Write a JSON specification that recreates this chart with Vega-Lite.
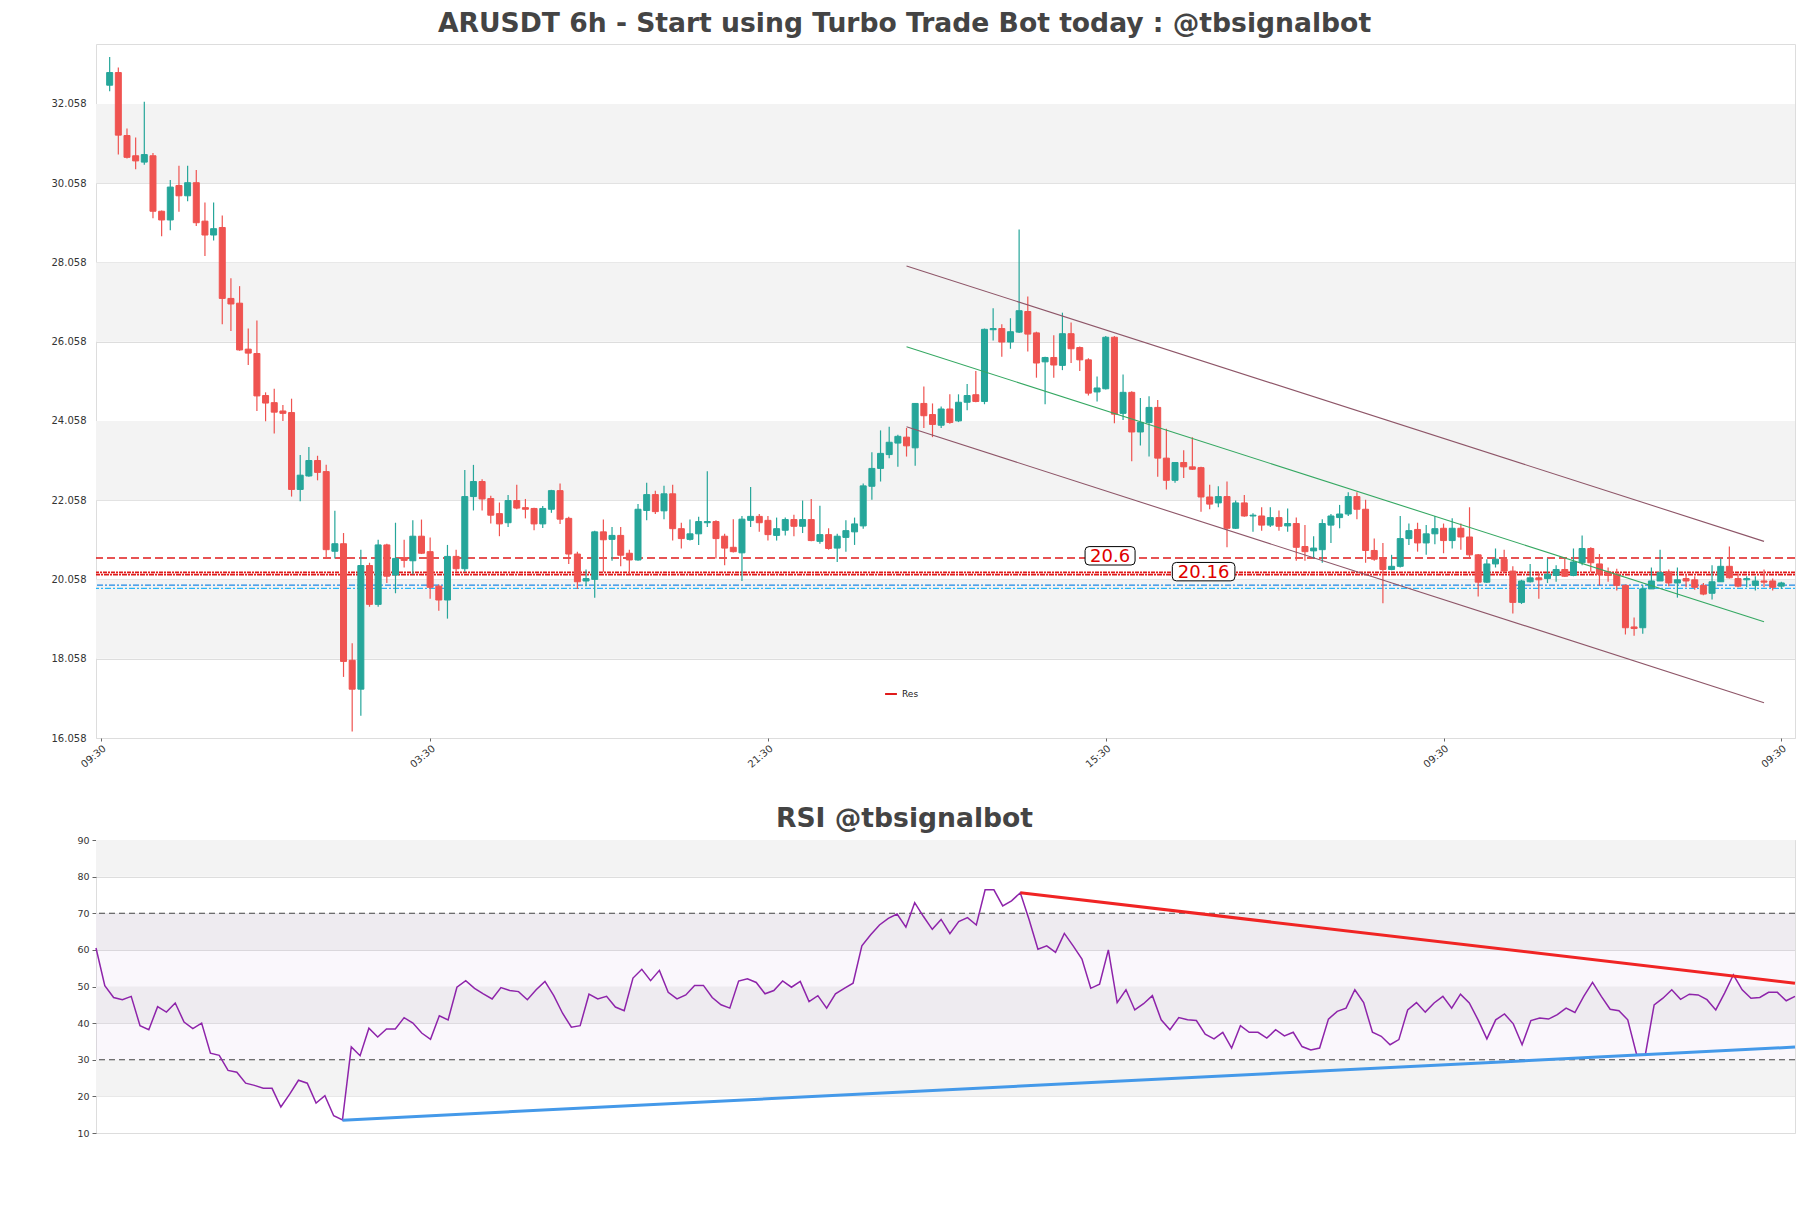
{
  "$schema": "https://vega.github.io/schema/vega-lite/v6.json",
  "padding": {"left": 50, "top": 10, "right": 10, "bottom": 0},
  "background": "white",
  "config": {
    "font": "DejaVu Sans",
    "view": {"stroke": "#dddddd"},
    "axis": {"labelFont": "DejaVu Sans", "labelColor": "#333333", "domain": false, "tickColor": "#666666", "gridColor": "#dddddd", "title": null},
    "axisY": {"labelOverlap": false},
    "title": {"font": "DejaVu Sans", "fontSize": 26.6, "fontWeight": "bold", "color": "#444444"},
    "legend": {"labelFont": "DejaVu Sans"}
  },
  "datasets": {
    "candles": [
      {"i":0,"open":32.53,"high":33.24,"low":32.38,"close":32.85},
      {"i":1,"open":32.85,"high":32.98,"low":30.78,"close":31.27},
      {"i":2,"open":31.26,"high":31.44,"low":30.68,"close":30.71},
      {"i":3,"open":30.75,"high":31.21,"low":30.41,"close":30.62},
      {"i":4,"open":30.59,"high":32.11,"low":30.52,"close":30.78},
      {"i":5,"open":30.75,"high":30.82,"low":29.17,"close":29.35},
      {"i":6,"open":29.35,"high":29.37,"low":28.72,"close":29.13},
      {"i":7,"open":29.13,"high":30.14,"low":28.87,"close":29.96},
      {"i":8,"open":30.00,"high":30.50,"low":29.34,"close":29.74},
      {"i":9,"open":29.74,"high":30.50,"low":29.60,"close":30.07},
      {"i":10,"open":30.07,"high":30.39,"low":28.98,"close":29.06},
      {"i":11,"open":29.10,"high":29.57,"low":28.22,"close":28.75},
      {"i":12,"open":28.75,"high":29.57,"low":28.61,"close":28.91},
      {"i":13,"open":28.94,"high":29.24,"low":26.50,"close":27.15},
      {"i":14,"open":27.15,"high":27.66,"low":26.33,"close":27.01},
      {"i":15,"open":27.03,"high":27.46,"low":25.83,"close":25.85},
      {"i":16,"open":25.87,"high":26.39,"low":25.47,"close":25.77},
      {"i":17,"open":25.76,"high":26.59,"low":24.31,"close":24.69},
      {"i":18,"open":24.70,"high":24.78,"low":24.05,"close":24.51},
      {"i":19,"open":24.52,"high":24.87,"low":23.74,"close":24.28},
      {"i":20,"open":24.31,"high":24.46,"low":24.06,"close":24.25},
      {"i":21,"open":24.27,"high":24.62,"low":22.15,"close":22.33},
      {"i":22,"open":22.33,"high":23.20,"low":22.03,"close":22.69},
      {"i":23,"open":22.67,"high":23.40,"low":22.65,"close":23.06},
      {"i":24,"open":23.06,"high":23.18,"low":22.56,"close":22.76},
      {"i":25,"open":22.78,"high":22.95,"low":20.59,"close":20.81},
      {"i":26,"open":20.77,"high":21.79,"low":20.59,"close":20.96},
      {"i":27,"open":20.96,"high":21.23,"low":17.60,"close":17.99},
      {"i":28,"open":18.02,"high":18.45,"low":16.22,"close":17.29},
      {"i":29,"open":17.29,"high":20.81,"low":16.62,"close":20.41},
      {"i":30,"open":20.41,"high":20.48,"low":19.37,"close":19.43},
      {"i":31,"open":19.43,"high":21.06,"low":19.37,"close":20.93},
      {"i":32,"open":20.93,"high":20.96,"low":19.97,"close":20.14},
      {"i":33,"open":20.17,"high":21.49,"low":19.71,"close":20.59},
      {"i":34,"open":20.61,"high":21.06,"low":20.36,"close":20.54},
      {"i":35,"open":20.53,"high":21.55,"low":20.19,"close":21.15},
      {"i":36,"open":21.15,"high":21.57,"low":20.70,"close":20.72},
      {"i":37,"open":20.76,"high":21.12,"low":19.57,"close":19.86},
      {"i":38,"open":19.89,"high":19.93,"low":19.27,"close":19.54},
      {"i":39,"open":19.54,"high":20.93,"low":19.07,"close":20.64},
      {"i":40,"open":20.64,"high":20.81,"low":20.25,"close":20.33},
      {"i":41,"open":20.33,"high":22.82,"low":20.25,"close":22.15},
      {"i":42,"open":22.15,"high":22.95,"low":21.80,"close":22.53},
      {"i":43,"open":22.53,"high":22.59,"low":21.80,"close":22.09},
      {"i":44,"open":22.10,"high":22.17,"low":21.47,"close":21.68},
      {"i":45,"open":21.72,"high":22.00,"low":21.15,"close":21.46},
      {"i":46,"open":21.49,"high":22.19,"low":21.38,"close":22.05},
      {"i":47,"open":22.05,"high":22.45,"low":21.83,"close":21.86},
      {"i":48,"open":21.87,"high":22.09,"low":21.60,"close":21.83},
      {"i":49,"open":21.85,"high":21.87,"low":21.30,"close":21.46},
      {"i":50,"open":21.46,"high":21.91,"low":21.36,"close":21.85},
      {"i":51,"open":21.83,"high":22.32,"low":21.74,"close":22.30},
      {"i":52,"open":22.30,"high":22.48,"low":21.46,"close":21.58},
      {"i":53,"open":21.60,"high":21.64,"low":20.45,"close":20.70},
      {"i":54,"open":20.70,"high":20.76,"low":19.82,"close":20.00},
      {"i":55,"open":20.02,"high":20.31,"low":19.89,"close":20.08},
      {"i":56,"open":20.06,"high":21.29,"low":19.60,"close":21.26},
      {"i":57,"open":21.26,"high":21.57,"low":20.25,"close":21.06},
      {"i":58,"open":21.07,"high":21.38,"low":20.53,"close":21.17},
      {"i":59,"open":21.17,"high":21.38,"low":20.39,"close":20.67},
      {"i":60,"open":20.72,"high":20.81,"low":20.19,"close":20.55},
      {"i":61,"open":20.55,"high":21.96,"low":20.53,"close":21.83},
      {"i":62,"open":21.80,"high":22.50,"low":21.55,"close":22.20},
      {"i":63,"open":22.20,"high":22.30,"low":21.71,"close":21.77},
      {"i":64,"open":21.79,"high":22.42,"low":21.58,"close":22.22},
      {"i":65,"open":22.22,"high":22.45,"low":21.04,"close":21.34},
      {"i":66,"open":21.34,"high":21.49,"low":20.84,"close":21.09},
      {"i":67,"open":21.07,"high":21.57,"low":21.04,"close":21.21},
      {"i":68,"open":21.21,"high":21.64,"low":20.93,"close":21.52},
      {"i":69,"open":21.49,"high":22.79,"low":21.38,"close":21.52},
      {"i":70,"open":21.52,"high":21.55,"low":20.59,"close":21.09},
      {"i":71,"open":21.15,"high":21.21,"low":20.42,"close":20.85},
      {"i":72,"open":20.87,"high":21.58,"low":20.74,"close":20.76},
      {"i":73,"open":20.73,"high":21.66,"low":20.02,"close":21.58},
      {"i":74,"open":21.55,"high":22.39,"low":21.38,"close":21.65},
      {"i":75,"open":21.65,"high":21.71,"low":21.26,"close":21.49},
      {"i":76,"open":21.55,"high":21.66,"low":21.04,"close":21.19},
      {"i":77,"open":21.17,"high":21.62,"low":21.04,"close":21.34},
      {"i":78,"open":21.30,"high":21.62,"low":21.17,"close":21.57},
      {"i":79,"open":21.57,"high":21.69,"low":21.15,"close":21.40},
      {"i":80,"open":21.40,"high":22.05,"low":21.23,"close":21.57},
      {"i":81,"open":21.57,"high":22.09,"low":21.02,"close":21.04},
      {"i":82,"open":21.02,"high":21.92,"low":20.96,"close":21.19},
      {"i":83,"open":21.19,"high":21.35,"low":20.81,"close":20.84},
      {"i":84,"open":20.85,"high":21.21,"low":20.50,"close":21.15},
      {"i":85,"open":21.12,"high":21.55,"low":20.76,"close":21.29},
      {"i":86,"open":21.26,"high":21.62,"low":20.93,"close":21.46},
      {"i":87,"open":21.41,"high":22.48,"low":21.34,"close":22.42},
      {"i":88,"open":22.41,"high":23.27,"low":22.07,"close":22.86},
      {"i":89,"open":22.86,"high":23.82,"low":22.53,"close":23.24},
      {"i":90,"open":23.21,"high":23.91,"low":23.12,"close":23.52},
      {"i":91,"open":23.50,"high":23.71,"low":22.90,"close":23.67},
      {"i":92,"open":23.65,"high":23.88,"low":23.16,"close":23.43},
      {"i":93,"open":23.38,"high":24.51,"low":22.93,"close":24.50},
      {"i":94,"open":24.50,"high":24.93,"low":23.88,"close":24.19},
      {"i":95,"open":24.22,"high":24.50,"low":23.65,"close":23.97},
      {"i":96,"open":23.95,"high":24.42,"low":23.88,"close":24.36},
      {"i":97,"open":24.36,"high":24.73,"low":23.99,"close":24.02},
      {"i":98,"open":24.06,"high":24.73,"low":24.03,"close":24.53},
      {"i":99,"open":24.53,"high":24.99,"low":24.33,"close":24.70},
      {"i":100,"open":24.72,"high":25.32,"low":24.53,"close":24.55},
      {"i":101,"open":24.55,"high":26.39,"low":24.48,"close":26.37},
      {"i":102,"open":26.36,"high":26.90,"low":26.09,"close":26.39},
      {"i":103,"open":26.39,"high":26.50,"low":25.68,"close":26.05},
      {"i":104,"open":26.05,"high":26.65,"low":25.88,"close":26.31},
      {"i":105,"open":26.30,"high":28.89,"low":26.28,"close":26.84},
      {"i":106,"open":26.82,"high":27.20,"low":25.81,"close":26.25},
      {"i":107,"open":26.28,"high":26.31,"low":25.15,"close":25.52},
      {"i":108,"open":25.55,"high":25.68,"low":24.48,"close":25.66},
      {"i":109,"open":25.66,"high":26.22,"low":25.15,"close":25.47},
      {"i":110,"open":25.46,"high":26.79,"low":25.34,"close":26.26},
      {"i":111,"open":26.26,"high":26.54,"low":25.52,"close":25.88},
      {"i":112,"open":25.91,"high":25.94,"low":25.32,"close":25.60},
      {"i":113,"open":25.60,"high":25.64,"low":24.70,"close":24.76},
      {"i":114,"open":24.79,"high":25.18,"low":24.55,"close":24.89},
      {"i":115,"open":24.87,"high":26.20,"low":24.85,"close":26.17},
      {"i":116,"open":26.17,"high":26.20,"low":24.00,"close":24.23},
      {"i":117,"open":24.25,"high":25.23,"low":24.08,"close":24.78},
      {"i":118,"open":24.78,"high":24.81,"low":23.04,"close":23.78},
      {"i":119,"open":23.78,"high":24.64,"low":23.44,"close":24.02},
      {"i":120,"open":24.02,"high":24.68,"low":23.16,"close":24.40},
      {"i":121,"open":24.40,"high":24.59,"low":22.65,"close":23.12},
      {"i":122,"open":23.12,"high":23.86,"low":22.33,"close":22.56},
      {"i":123,"open":22.56,"high":23.01,"low":22.50,"close":23.01},
      {"i":124,"open":23.01,"high":23.32,"low":22.62,"close":22.90},
      {"i":125,"open":22.90,"high":23.65,"low":22.82,"close":22.84},
      {"i":126,"open":22.88,"high":22.90,"low":21.77,"close":22.14},
      {"i":127,"open":22.14,"high":22.45,"low":21.83,"close":21.96},
      {"i":128,"open":21.99,"high":22.41,"low":21.88,"close":22.15},
      {"i":129,"open":22.15,"high":22.53,"low":20.87,"close":21.35},
      {"i":130,"open":21.35,"high":22.05,"low":21.33,"close":21.99},
      {"i":131,"open":21.99,"high":22.19,"low":21.64,"close":21.66},
      {"i":132,"open":21.66,"high":21.73,"low":21.26,"close":21.68},
      {"i":133,"open":21.66,"high":21.88,"low":21.29,"close":21.43},
      {"i":134,"open":21.43,"high":21.88,"low":21.38,"close":21.62},
      {"i":135,"open":21.62,"high":21.80,"low":21.29,"close":21.40},
      {"i":136,"open":21.41,"high":21.85,"low":21.26,"close":21.47},
      {"i":137,"open":21.47,"high":21.62,"low":20.53,"close":20.87},
      {"i":138,"open":20.89,"high":21.43,"low":20.53,"close":20.76},
      {"i":139,"open":20.78,"high":21.15,"low":20.59,"close":20.85},
      {"i":140,"open":20.81,"high":21.58,"low":20.48,"close":21.47},
      {"i":141,"open":21.43,"high":21.71,"low":20.98,"close":21.66},
      {"i":142,"open":21.62,"high":21.94,"low":21.35,"close":21.71},
      {"i":143,"open":21.71,"high":22.26,"low":21.66,"close":22.15},
      {"i":144,"open":22.15,"high":22.26,"low":21.58,"close":21.83},
      {"i":145,"open":21.83,"high":22.07,"low":20.48,"close":20.79},
      {"i":146,"open":20.79,"high":21.09,"low":20.53,"close":20.57},
      {"i":147,"open":20.59,"high":20.98,"low":19.46,"close":20.31},
      {"i":148,"open":20.31,"high":20.68,"low":20.29,"close":20.39},
      {"i":149,"open":20.39,"high":21.66,"low":20.36,"close":21.09},
      {"i":150,"open":21.09,"high":21.47,"low":20.93,"close":21.29},
      {"i":151,"open":21.32,"high":21.49,"low":20.76,"close":20.98},
      {"i":152,"open":20.98,"high":21.43,"low":20.68,"close":21.21},
      {"i":153,"open":21.21,"high":21.66,"low":20.95,"close":21.34},
      {"i":154,"open":21.35,"high":21.47,"low":20.72,"close":21.04},
      {"i":155,"open":21.04,"high":21.60,"low":20.84,"close":21.35},
      {"i":156,"open":21.35,"high":21.47,"low":20.81,"close":21.13},
      {"i":157,"open":21.13,"high":21.88,"low":20.59,"close":20.68},
      {"i":158,"open":20.68,"high":20.70,"low":19.63,"close":19.99},
      {"i":159,"open":19.99,"high":20.57,"low":19.97,"close":20.45},
      {"i":160,"open":20.45,"high":20.84,"low":20.36,"close":20.57},
      {"i":161,"open":20.57,"high":20.81,"low":20.23,"close":20.27},
      {"i":162,"open":20.27,"high":20.39,"low":19.20,"close":19.48},
      {"i":163,"open":19.48,"high":20.05,"low":19.44,"close":20.02},
      {"i":164,"open":20.00,"high":20.45,"low":19.98,"close":20.10},
      {"i":165,"open":20.10,"high":20.23,"low":19.57,"close":20.05},
      {"i":166,"open":20.08,"high":20.59,"low":19.97,"close":20.19},
      {"i":167,"open":20.16,"high":20.42,"low":20.00,"close":20.31},
      {"i":168,"open":20.31,"high":20.61,"low":20.13,"close":20.14},
      {"i":169,"open":20.16,"high":20.84,"low":20.14,"close":20.50},
      {"i":170,"open":20.48,"high":21.17,"low":20.42,"close":20.84},
      {"i":171,"open":20.84,"high":20.87,"low":20.25,"close":20.48},
      {"i":172,"open":20.45,"high":20.70,"low":19.91,"close":20.19},
      {"i":173,"open":20.25,"high":20.36,"low":20.00,"close":20.16},
      {"i":174,"open":20.19,"high":20.33,"low":19.78,"close":19.91},
      {"i":175,"open":19.91,"high":19.93,"low":18.67,"close":18.84},
      {"i":176,"open":18.86,"high":19.10,"low":18.64,"close":18.82},
      {"i":177,"open":18.84,"high":19.91,"low":18.69,"close":19.82},
      {"i":178,"open":19.82,"high":20.36,"low":19.82,"close":20.02},
      {"i":179,"open":20.02,"high":20.81,"low":20.02,"close":20.23},
      {"i":180,"open":20.25,"high":20.31,"low":19.89,"close":19.97},
      {"i":181,"open":19.97,"high":20.36,"low":19.60,"close":20.05},
      {"i":182,"open":20.08,"high":20.19,"low":19.86,"close":20.02},
      {"i":183,"open":20.05,"high":20.14,"low":19.80,"close":19.86},
      {"i":184,"open":19.91,"high":19.97,"low":19.66,"close":19.69},
      {"i":185,"open":19.71,"high":20.42,"low":19.55,"close":20.00},
      {"i":186,"open":20.00,"high":20.59,"low":20.00,"close":20.39},
      {"i":187,"open":20.39,"high":20.89,"low":20.08,"close":20.10},
      {"i":188,"open":20.08,"high":20.21,"low":19.86,"close":19.89},
      {"i":189,"open":20.05,"high":20.14,"low":19.86,"close":20.08},
      {"i":190,"open":19.91,"high":20.14,"low":19.78,"close":20.02},
      {"i":191,"open":20.02,"high":20.31,"low":19.86,"close":19.99},
      {"i":192,"open":20.02,"high":20.08,"low":19.78,"close":19.86},
      {"i":193,"open":19.89,"high":20.00,"low":19.82,"close":19.97}
    ],
    "priceBands": [
      {"lo":18.058,"hi":20.058},{"lo":22.058,"hi":24.058},{"lo":26.058,"hi":28.058},{"lo":30.058,"hi":32.058}
    ],
    "resMain": [{"price":20.6,"name":"Res"}],
    "resZoneA": [{"price":20.235,"name":"Res"}],
    "resZoneB": [{"price":20.18,"name":"Res"}],
    "supZoneA": [{"price":19.915}],
    "supZoneB": [{"price":19.835}],
    "channel": [
      {"i":92,"price":27.97,"line":"upper"},{"i":191,"price":21.02,"line":"upper"},
      {"i":92,"price":23.91,"line":"lower"},{"i":191,"price":16.95,"line":"lower"}
    ],
    "channelMid": [{"i":92,"price":25.93},{"i":191,"price":18.99}],
    "levelLabels": [
      {"i":115.5,"price":20.6,"label":"20.6"},
      {"i":126.3,"price":20.2,"label":"20.16"}
    ],
    "rsi": [
      {"i":0,"rsi":60.5},{"i":1,"rsi":50.2},{"i":2,"rsi":47.0},{"i":3,"rsi":46.4},{"i":4,"rsi":47.3},
      {"i":5,"rsi":39.3},{"i":6,"rsi":38.2},{"i":7,"rsi":44.5},{"i":8,"rsi":43.0},{"i":9,"rsi":45.5},
      {"i":10,"rsi":40.3},{"i":11,"rsi":38.5},{"i":12,"rsi":40.0},{"i":13,"rsi":31.8},{"i":14,"rsi":31.2},
      {"i":15,"rsi":27.1},{"i":16,"rsi":26.6},{"i":17,"rsi":23.6},{"i":18,"rsi":23.0},{"i":19,"rsi":22.2},
      {"i":20,"rsi":22.2},{"i":21,"rsi":17.1},{"i":22,"rsi":20.6},{"i":23,"rsi":24.4},{"i":24,"rsi":23.6},
      {"i":25,"rsi":18.2},{"i":26,"rsi":20.2},{"i":27,"rsi":14.7},{"i":28,"rsi":13.6},{"i":29,"rsi":33.5},
      {"i":30,"rsi":31.1},{"i":31,"rsi":38.6},{"i":32,"rsi":36.2},{"i":33,"rsi":38.4},{"i":34,"rsi":38.4},
      {"i":35,"rsi":41.5},{"i":36,"rsi":40.0},{"i":37,"rsi":37.3},{"i":38,"rsi":35.6},{"i":39,"rsi":42.0},
      {"i":40,"rsi":40.9},{"i":41,"rsi":49.8},{"i":42,"rsi":51.6},{"i":43,"rsi":49.5},{"i":44,"rsi":48.0},
      {"i":45,"rsi":46.6},{"i":46,"rsi":49.7},{"i":47,"rsi":48.9},{"i":48,"rsi":48.6},{"i":49,"rsi":46.4},
      {"i":50,"rsi":49.1},{"i":51,"rsi":51.4},{"i":52,"rsi":47.5},{"i":53,"rsi":42.7},{"i":54,"rsi":38.9},
      {"i":55,"rsi":39.3},{"i":56,"rsi":47.9},{"i":57,"rsi":46.6},{"i":58,"rsi":47.3},{"i":59,"rsi":44.4},
      {"i":60,"rsi":43.4},{"i":61,"rsi":52.3},{"i":62,"rsi":54.7},{"i":63,"rsi":51.6},{"i":64,"rsi":54.4},
      {"i":65,"rsi":48.4},{"i":66,"rsi":46.6},{"i":67,"rsi":47.7},{"i":68,"rsi":50.3},{"i":69,"rsi":50.3},
      {"i":70,"rsi":47.0},{"i":71,"rsi":45.0},{"i":72,"rsi":44.1},{"i":73,"rsi":51.5},{"i":74,"rsi":52.1},
      {"i":75,"rsi":51.1},{"i":76,"rsi":48.0},{"i":77,"rsi":48.9},{"i":78,"rsi":51.5},{"i":79,"rsi":49.8},
      {"i":80,"rsi":51.4},{"i":81,"rsi":45.9},{"i":82,"rsi":47.5},{"i":83,"rsi":44.1},{"i":84,"rsi":48.0},
      {"i":85,"rsi":49.5},{"i":86,"rsi":50.9},{"i":87,"rsi":61.1},{"i":88,"rsi":64.1},{"i":89,"rsi":66.8},
      {"i":90,"rsi":68.6},{"i":91,"rsi":69.8},{"i":92,"rsi":66.2},{"i":93,"rsi":72.9},{"i":94,"rsi":69.1},
      {"i":95,"rsi":65.6},{"i":96,"rsi":68.3},{"i":97,"rsi":64.4},{"i":98,"rsi":67.7},{"i":99,"rsi":68.8},
      {"i":100,"rsi":66.8},{"i":101,"rsi":76.4},{"i":102,"rsi":76.4},{"i":103,"rsi":72.0},{"i":104,"rsi":73.4},
      {"i":105,"rsi":75.6},{"i":106,"rsi":68.2},{"i":107,"rsi":60.2},{"i":108,"rsi":61.1},{"i":109,"rsi":59.3},
      {"i":110,"rsi":64.5},{"i":111,"rsi":61.1},{"i":112,"rsi":57.5},{"i":113,"rsi":49.5},{"i":114,"rsi":50.6},
      {"i":115,"rsi":60.0},{"i":116,"rsi":45.6},{"i":117,"rsi":49.1},{"i":118,"rsi":43.6},{"i":119,"rsi":45.3},
      {"i":120,"rsi":47.5},{"i":121,"rsi":40.9},{"i":122,"rsi":38.2},{"i":123,"rsi":41.5},{"i":124,"rsi":40.9},
      {"i":125,"rsi":40.7},{"i":126,"rsi":37.0},{"i":127,"rsi":35.7},{"i":128,"rsi":37.5},{"i":129,"rsi":33.2},
      {"i":130,"rsi":39.3},{"i":131,"rsi":37.5},{"i":132,"rsi":37.5},{"i":133,"rsi":35.9},{"i":134,"rsi":38.2},
      {"i":135,"rsi":36.5},{"i":136,"rsi":37.5},{"i":137,"rsi":33.6},{"i":138,"rsi":32.7},{"i":139,"rsi":33.2},
      {"i":140,"rsi":41.1},{"i":141,"rsi":43.2},{"i":142,"rsi":44.1},{"i":143,"rsi":49.1},{"i":144,"rsi":45.6},
      {"i":145,"rsi":37.5},{"i":146,"rsi":36.4},{"i":147,"rsi":34.1},{"i":148,"rsi":35.5},{"i":149,"rsi":43.6},
      {"i":150,"rsi":45.6},{"i":151,"rsi":43.0},{"i":152,"rsi":45.5},{"i":153,"rsi":47.3},{"i":154,"rsi":44.1},
      {"i":155,"rsi":47.9},{"i":156,"rsi":45.5},{"i":157,"rsi":40.9},{"i":158,"rsi":35.7},{"i":159,"rsi":40.9},
      {"i":160,"rsi":42.5},{"i":161,"rsi":39.8},{"i":162,"rsi":34.1},{"i":163,"rsi":40.7},{"i":164,"rsi":41.4},
      {"i":165,"rsi":41.1},{"i":166,"rsi":42.3},{"i":167,"rsi":44.1},{"i":168,"rsi":42.9},{"i":169,"rsi":47.3},
      {"i":170,"rsi":51.1},{"i":171,"rsi":47.3},{"i":172,"rsi":43.8},{"i":173,"rsi":43.4},{"i":174,"rsi":40.9},
      {"i":175,"rsi":31.5},{"i":176,"rsi":31.4},{"i":177,"rsi":45.0},{"i":178,"rsi":46.8},{"i":179,"rsi":49.1},
      {"i":180,"rsi":46.5},{"i":181,"rsi":47.9},{"i":182,"rsi":47.7},{"i":183,"rsi":46.4},{"i":184,"rsi":43.6},
      {"i":185,"rsi":48.2},{"i":186,"rsi":53.2},{"i":187,"rsi":49.1},{"i":188,"rsi":46.8},{"i":189,"rsi":47.0},
      {"i":190,"rsi":48.4},{"i":191,"rsi":48.4},{"i":192,"rsi":46.1},{"i":193,"rsi":47.3}
    ],
    "rsiBands": [{"lo":20,"hi":30},{"lo":40,"hi":50},{"lo":60,"hi":70},{"lo":80,"hi":90}],
    "rsiZone": [{"lo":30,"hi":70}],
    "rsiLevels": [{"level":30},{"level":70}],
    "rsiRes": [{"i":105,"rsi":75.6},{"i":193,"rsi":50.9}],
    "rsiSup": [{"i":28,"rsi":13.5},{"i":193,"rsi":33.45}]
  },
  "spacing": 35,
  "resolve": {"scale": {"x": "independent", "y": "independent", "color": "independent", "shape": "independent"}},
  "vconcat": [
    {
      "width": 1699,
      "height": 694,
      "title": {"text": "ARUSDT 6h - Start using Turbo Trade Bot today : @tbsignalbot", "anchor": "middle", "frame": "group", "dx": -41, "offset": 6},
      "layer": [
        {
          "data": {"name": "priceBands"},
          "mark": {"type": "rect", "color": "#f3f3f3"},
          "encoding": {
            "y": {"field": "lo", "type": "quantitative", "scale": {"domain": [16.058, 33.57], "nice": false, "zero": false},
                  "axis": {"values": [16.058, 18.058, 20.058, 22.058, 24.058, 26.058, 28.058, 30.058, 32.058], "format": ".3f", "grid": true, "labelFontSize": 10, "ticks": false, "tickSize": 0, "labelPadding": 10, "title": null}},
            "y2": {"field": "hi"}
          }
        },
        {
          "data": {"name": "supZoneA"},
          "mark": {"type": "rule", "color": "#1e88e5", "strokeWidth": 1.2, "strokeDash": [6, 2, 2, 2]},
          "encoding": {"y": {"field": "price", "type": "quantitative"}}
        },
        {
          "data": {"name": "supZoneB"},
          "mark": {"type": "rule", "color": "#29b6f6", "strokeWidth": 1.2, "strokeDash": [2, 2, 6, 2]},
          "encoding": {"y": {"field": "price", "type": "quantitative"}}
        },
        {
          "data": {"name": "resZoneA"},
          "mark": {"type": "rule", "strokeWidth": 1.8, "strokeDash": [4, 1, 2, 1]},
          "encoding": {"y": {"field": "price", "type": "quantitative"},
                       "color": {"field": "name", "type": "nominal", "scale": {"domain": ["Res"], "range": ["#e01b1b"]},
                                 "legend": {"orient": "none", "legendX": 788, "legendY": 643, "title": null, "symbolType": "stroke", "symbolStrokeWidth": 2, "symbolSize": 140, "symbolDash": [1, 0], "labelFontSize": 9, "labelColor": "#222222"}}}
        },
        {
          "data": {"name": "resZoneB"},
          "mark": {"type": "rule", "strokeWidth": 1.8, "strokeDash": [2, 1, 5, 1]},
          "encoding": {"y": {"field": "price", "type": "quantitative"},
                       "color": {"field": "name", "type": "nominal", "legend": null}}
        },
        {
          "data": {"name": "resMain"},
          "mark": {"type": "rule", "strokeWidth": 1.3, "strokeDash": [8, 4]},
          "encoding": {"y": {"field": "price", "type": "quantitative"},
                       "color": {"field": "name", "type": "nominal", "legend": null}}
        },
        {
          "data": {"name": "candles"},
          "mark": {"type": "rule", "strokeWidth": 1.2},
          "encoding": {
            "x": {"field": "i", "type": "quantitative", "scale": {"domain": [-1, 194], "nice": false, "zero": false},
                  "axis": {"values": [-1, 37, 76, 115, 154, 193], "labelExpr": "['09:30','03:30','21:30','15:30','09:30','09:30'][indexof([-1,37,76,115,154,193], datum.value)]", "labelAngle": -40, "labelAlign": "right", "labelBaseline": "top", "labelFontSize": 10, "labelFlush": false, "labelOverlap": false, "grid": false, "tickSize": 3, "title": null}},
            "y": {"field": "low", "type": "quantitative"},
            "y2": {"field": "high"},
            "color": {"condition": {"test": "datum.close >= datum.open", "value": "#26a69a"}, "value": "#ef5350"}
          }
        },
        {
          "data": {"name": "candles"},
          "mark": {"type": "bar", "size": 6, "strokeWidth": 1},
          "encoding": {
            "x": {"field": "i", "type": "quantitative"},
            "y": {"field": "open", "type": "quantitative"},
            "y2": {"field": "close"},
            "color": {"condition": {"test": "datum.close >= datum.open", "value": "#26a69a"}, "value": "#ef5350"},
            "stroke": {"condition": {"test": "datum.close >= datum.open", "value": "#26a69a"}, "value": "#ef5350"}
          }
        },
        {
          "data": {"name": "channel"},
          "mark": {"type": "line", "color": "#8e5668", "strokeWidth": 1.1},
          "encoding": {"x": {"field": "i", "type": "quantitative"}, "y": {"field": "price", "type": "quantitative"}, "detail": {"field": "line"}}
        },
        {
          "data": {"name": "channelMid"},
          "mark": {"type": "line", "color": "#35a862", "strokeWidth": 1.1},
          "encoding": {"x": {"field": "i", "type": "quantitative"}, "y": {"field": "price", "type": "quantitative"}}
        },
        {
          "data": {"name": "levelLabels"},
          "mark": {"type": "point", "filled": true, "fill": "white", "stroke": "black", "strokeWidth": 1, "opacity": 1, "size": 400},
          "encoding": {
            "x": {"field": "i", "type": "quantitative"},
            "y": {"field": "price", "type": "quantitative"},
            "shape": {"field": "label", "type": "nominal", "legend": null,
                      "scale": {"domain": ["20.6", "20.16"], "range": [
                        "M-2.1,-1.14L2.1,-1.14Q2.5,-1.14 2.5,-0.74L2.5,0.3Q2.5,0.7 2.1,0.7L-2.1,0.7Q-2.5,0.7 -2.5,0.3L-2.5,-0.74Q-2.5,-1.14 -2.1,-1.14Z",
                        "M-2.73,-1.14L2.73,-1.14Q3.13,-1.14 3.13,-0.74L3.13,0.3Q3.13,0.7 2.73,0.7L-2.73,0.7Q-3.13,0.7 -3.13,0.3L-3.13,-0.74Q-3.13,-1.14 -2.73,-1.14Z"]}}
          }
        },
        {
          "data": {"name": "levelLabels"},
          "mark": {"type": "text", "color": "#e00000", "fontSize": 18, "font": "DejaVu Sans", "baseline": "middle", "align": "center", "dy": -1.2},
          "encoding": {
            "x": {"field": "i", "type": "quantitative"},
            "y": {"field": "price", "type": "quantitative"},
            "text": {"field": "label"}
          }
        }
      ]
    },
    {
      "width": 1699,
      "height": 293,
      "title": {"text": "RSI @tbsignalbot", "anchor": "middle", "frame": "group", "dx": -41, "offset": 2.5},
      "layer": [
        {
          "data": {"name": "rsiBands"},
          "mark": {"type": "rect", "color": "#f3f3f3"},
          "encoding": {
            "y": {"field": "lo", "type": "quantitative", "scale": {"domain": [10, 90], "nice": false, "zero": false},
                  "axis": {"values": [10, 20, 30, 40, 50, 60, 70, 80, 90], "tickCount": 9, "format": "d",
                           "labelOverlap": false, "grid": true, "tickSize": 4,
                           "labelFontSize": 9.5, "labelPadding": 3, "title": null}},
            "y2": {"field": "hi"}
          }
        },
        {
          "data": {"name": "rsiZone"},
          "mark": {"type": "rect", "color": "#b27fc6", "opacity": 0.06},
          "encoding": {"y": {"field": "lo", "type": "quantitative", "axis": {"values": [10, 20, 30, 40, 50, 60, 70, 80, 90], "labelOverlap": false}}, "y2": {"field": "hi"}}
        },
        {
          "data": {"name": "rsiLevels"},
          "mark": {"type": "rule", "color": "#444444", "strokeWidth": 1.2, "strokeDash": [6, 4]},
          "encoding": {"y": {"field": "level", "type": "quantitative", "axis": {"values": [10, 20, 30, 40, 50, 60, 70, 80, 90], "labelOverlap": false}}}
        },
        {
          "data": {"name": "rsi"},
          "mark": {"type": "line", "color": "#8e24aa", "strokeWidth": 1.5},
          "encoding": {
            "x": {"field": "i", "type": "quantitative", "scale": {"domain": [0, 193], "nice": false, "zero": false}, "axis": null},
            "y": {"field": "rsi", "type": "quantitative", "axis": {"values": [10, 20, 30, 40, 50, 60, 70, 80, 90], "labelOverlap": false}}
          }
        },
        {
          "data": {"name": "rsiRes"},
          "mark": {"type": "line", "color": "#f02424", "strokeWidth": 3},
          "encoding": {"x": {"field": "i", "type": "quantitative"}, "y": {"field": "rsi", "type": "quantitative", "axis": {"values": [10, 20, 30, 40, 50, 60, 70, 80, 90], "labelOverlap": false}}}
        },
        {
          "data": {"name": "rsiSup"},
          "mark": {"type": "line", "color": "#4499e9", "strokeWidth": 3},
          "encoding": {"x": {"field": "i", "type": "quantitative"}, "y": {"field": "rsi", "type": "quantitative", "axis": {"values": [10, 20, 30, 40, 50, 60, 70, 80, 90], "labelOverlap": false}}}
        }
      ]
    }
  ]
}
